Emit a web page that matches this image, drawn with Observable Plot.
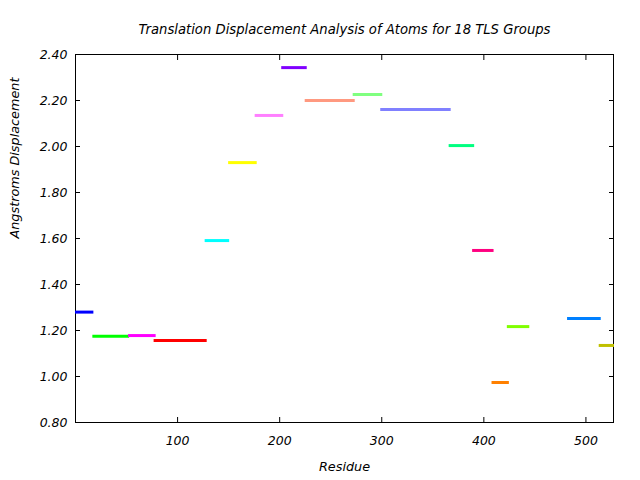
<!DOCTYPE html>
<html>
<head>
<meta charset="utf-8">
<script src="https://cdn.jsdelivr.net/npm/d3@7"></script>
<script src="https://cdn.jsdelivr.net/npm/@observablehq/plot@0.6"></script>
<style>
  html, body { margin: 0; padding: 0; background: #fff; }
  svg { display: block; }
</style>
</head>
<body>
<div id="chart"></div>
<script>
const groupStart = [0, 17, 52, 77, 127, 150, 176, 202, 225, 272, 299, 366, 389, 408, 423, 482, 513];
const groupEnd   = [18, 53, 79, 129, 151, 178, 204, 227, 274, 301, 368, 391, 410, 425, 445, 515, 528];
const displacement = [1.280, 1.175, 1.178, 1.157, 1.591, 1.930, 2.135, 2.343, 2.200, 2.226, 2.161, 2.004, 1.548, 0.974, 1.217, 1.252, 1.135];
const groupColors = ["#0000ff", "#00ff00", "#ff00ff", "#ff0000", "#00ffff", "#ffff00", "#ff80ff", "#8000ff", "#ff9980", "#80ff80", "#8080ff", "#00ff80", "#ff0080", "#ff8000", "#80ff00", "#0080ff", "#c0c000"];
const xTicks = [100, 200, 300, 400, 500];
const yTicks = [0.8, 1.0, 1.2, 1.4, 1.6, 1.8, 2.0, 2.2, 2.4];

const titleText = "Translation Displacement Analysis of Atoms for 18 TLS Groups";
const xLabel = "Residue";
const yLabel = "Angstroms Displacement";

const data = groupStart.map((s, i) => ({start: s, end: groupEnd[i], value: displacement[i], color: groupColors[i]}));

const chart = Plot.plot({
  width: 640,
  height: 480,
  marginLeft: 75,
  marginRight: 27,
  marginTop: 54,
  marginBottom: 58,
  style: {fontFamily: "DejaVu Sans", fontStyle: "italic", fontSize: "12.5px", color: "#000", background: "#fff"},
  x: {domain: [0, 527]},
  y: {domain: [0.8, 2.4]},
  marks: [
    Plot.frame({stroke: "#000", strokeWidth: 1}),
    Plot.axisX({anchor: "bottom", ticks: xTicks, tickSize: -5, tickPadding: 19, label: null, tickFormat: d => String(d)}),
    Plot.axisX({anchor: "top", ticks: xTicks, tickSize: -5, label: null, tickFormat: () => ""}),
    Plot.axisY({anchor: "left", ticks: yTicks, tickSize: -5, tickPadding: 13, label: null, tickFormat: d => d.toFixed(2)}),
    Plot.axisY({anchor: "right", ticks: yTicks, tickSize: -5, label: null, tickFormat: () => ""}),
    Plot.ruleY(data, {x1: "start", x2: "end", y: "value", stroke: "color", strokeWidth: 3}),
    Plot.text([titleText], {frameAnchor: "top", dy: -30, text: d => d, fontSize: 13.2}),
    Plot.text([xLabel], {frameAnchor: "bottom", dy: 48, text: d => d, fontSize: 12.8}),
    Plot.text([yLabel], {frameAnchor: "left", dx: -61, rotate: -90, text: d => d, fontSize: 12.8})
  ]
});
document.getElementById("chart").appendChild(chart);
</script>
</body>
</html>
